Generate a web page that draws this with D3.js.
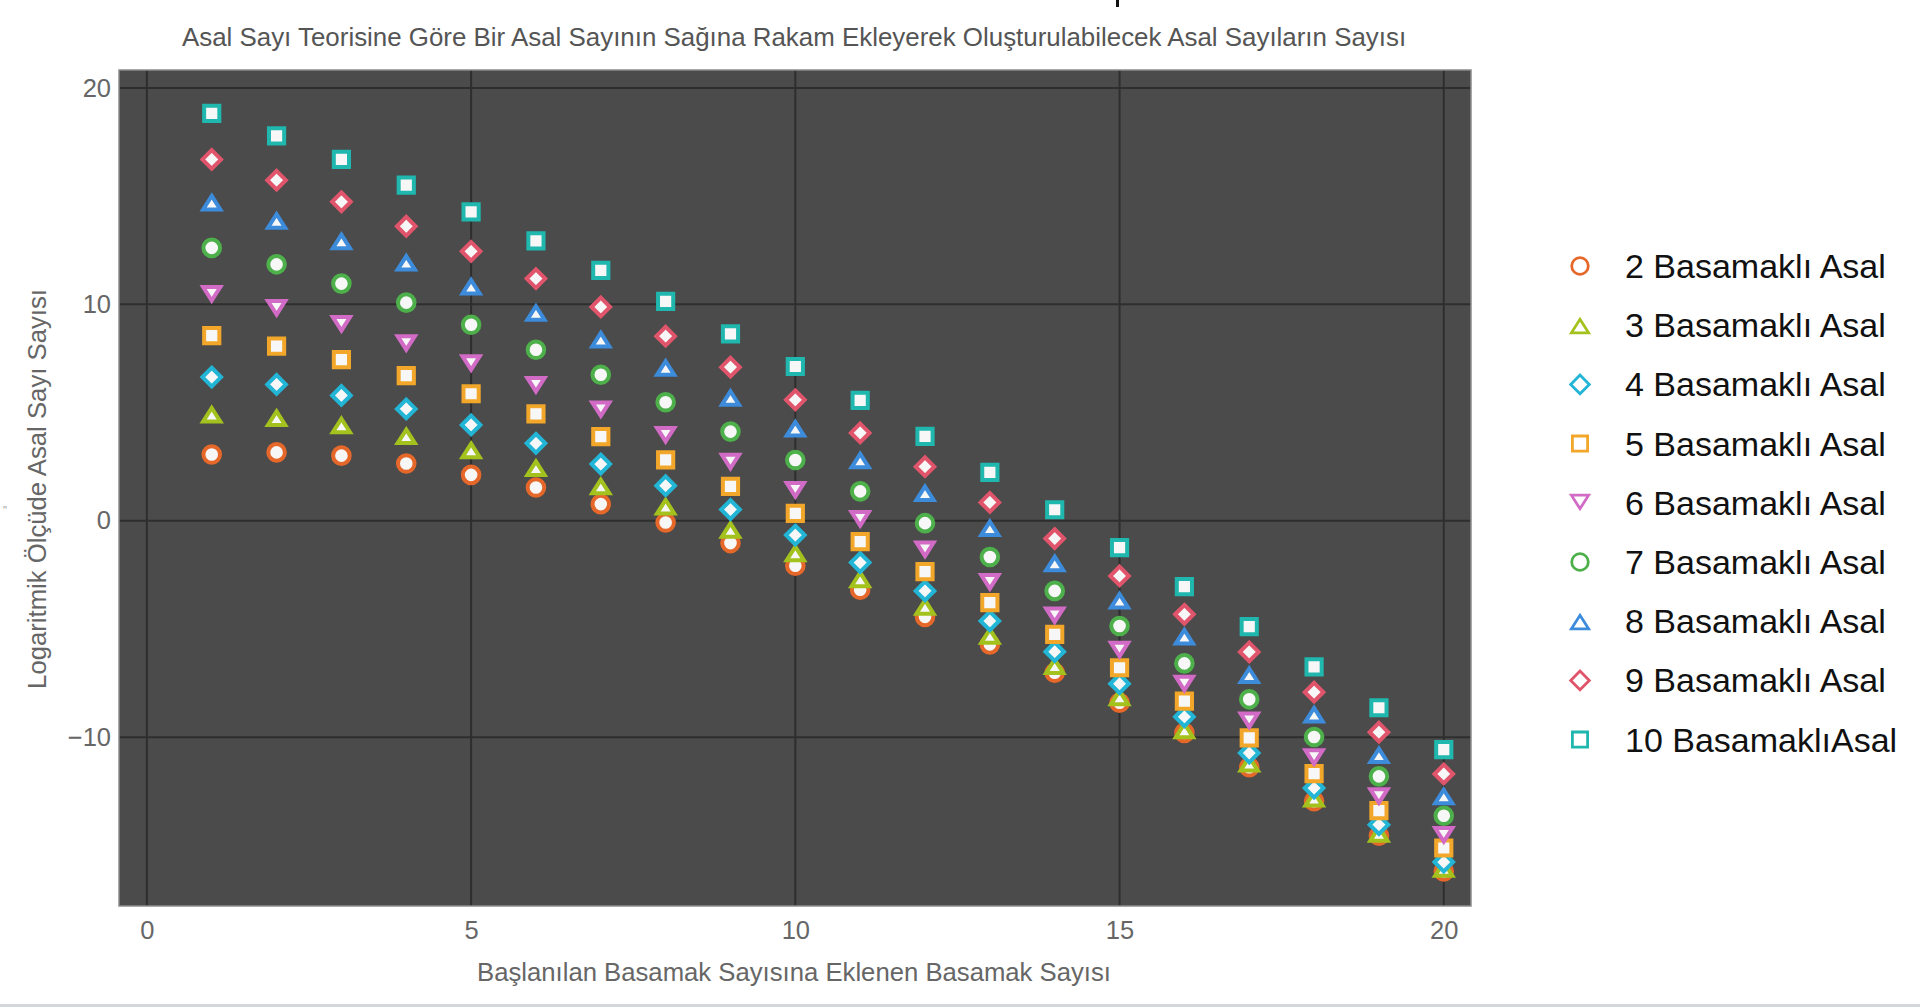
<!DOCTYPE html>
<html>
<head>
<meta charset="utf-8">
<script src="https://cdn.jsdelivr.net/npm/d3@7"></script>
<style>
  body { margin: 0; background: #fff; overflow: hidden; }
  text { font-family: "Liberation Sans", Arial, Helvetica, sans-serif; }
</style>
</head>
<body>
<svg id="chart" width="1920" height="1007"></svg>
<script>
// ---------------- DATA ----------------
const steps = [1, 2, 3, 4, 5, 6, 7, 8, 9, 10, 11, 12, 13, 14, 15, 16, 17, 18, 19, 20];
const seriesLabels = ["2 Basamaklı Asal", "3 Basamaklı Asal", "4 Basamaklı Asal", "5 Basamaklı Asal",
  "6 Basamaklı Asal", "7 Basamaklı Asal", "8 Basamaklı Asal", "9 Basamaklı Asal", "10 BasamaklıAsal"];
const s2  = [3.06, 3.16, 3.01, 2.65, 2.12, 1.54, 0.77, -0.08, -1.03, -2.08, -3.19, -4.44, -5.71, -7.02, -8.41, -9.80, -11.39, -12.96, -14.55, -16.20];
const s3  = [4.94, 4.78, 4.44, 3.94, 3.29, 2.47, 1.62, 0.69, -0.39, -1.47, -2.67, -3.94, -5.29, -6.68, -8.13, -9.65, -11.19, -12.81, -14.43, -16.05];
const s4  = [6.64, 6.30, 5.79, 5.17, 4.43, 3.58, 2.62, 1.62, 0.52, -0.66, -1.93, -3.24, -4.63, -6.05, -7.53, -9.06, -10.73, -12.35, -14.04, -15.77];
const s5  = [8.56, 8.07, 7.45, 6.71, 5.87, 4.94, 3.89, 2.81, 1.59, 0.34, -0.96, -2.35, -3.78, -5.25, -6.79, -8.33, -10.03, -11.68, -13.39, -15.12];
const s6  = [10.45, 9.80, 9.06, 8.18, 7.25, 6.25, 5.12, 3.94, 2.70, 1.39, 0.05, -1.36, -2.86, -4.40, -5.99, -7.56, -9.26, -10.96, -12.76, -14.55];
const s7  = [12.61, 11.85, 10.96, 10.08, 9.06, 7.90, 6.75, 5.48, 4.12, 2.81, 1.36, -0.11, -1.67, -3.24, -4.86, -6.59, -8.25, -9.99, -11.81, -13.63];
const s8  = [14.74, 13.89, 12.95, 11.96, 10.85, 9.64, 8.41, 7.10, 5.71, 4.29, 2.82, 1.31, -0.31, -1.93, -3.66, -5.32, -7.10, -8.92, -10.80, -12.70];
const s9  = [16.70, 15.74, 14.74, 13.61, 12.45, 11.19, 9.88, 8.53, 7.10, 5.59, 4.06, 2.50, 0.85, -0.82, -2.55, -4.32, -6.06, -7.92, -9.77, -11.70];
const s10 = [18.83, 17.79, 16.70, 15.51, 14.27, 12.93, 11.57, 10.14, 8.64, 7.13, 5.56, 3.90, 2.24, 0.51, -1.24, -3.04, -4.89, -6.75, -8.64, -10.57];
const seriesValues = [s2, s3, s4, s5, s6, s7, s8, s9, s10];
const xTickValues = [0, 5, 10, 15, 20];
const yTickValues = [-10, 0, 10, 20];
const titleText = "Asal Sayı Teorisine Göre Bir Asal Sayının Sağına Rakam Ekleyerek Oluşturulabilecek Asal Sayıların Sayısı";
const xTitle = "Başlanılan Basamak Sayısına Eklenen Basamak Sayısı";
const yTitle = "Logaritmik Ölçüde Asal Sayı Sayısı";

// ---------------- STYLE ----------------
const colors = ["#E5682A", "#A3C21E", "#22B5D5", "#F2A72A", "#D26BC6", "#4DB04A", "#3D8BDB", "#E0556B", "#1FB7AE"];
const shapeOf = ["circle", "triUp", "diamond", "square", "triDown", "circle", "triUp", "diamond", "square"];

function shapePath(type) {
  switch (type) {
    case "circle": { const r = 8.3; return `M${r},0A${r},${r} 0 1,1 ${-r},0A${r},${r} 0 1,1 ${r},0Z`; }
    case "square": { const h = 7.6; return `M${-h},${-h}H${h}V${h}H${-h}Z`; }
    case "diamond": { const d = 9.3; return `M0,${-d}L${d},0L0,${d}L${-d},0Z`; }
    case "triUp": { const a = 8.6, t = -5.9, b = 7.6; return `M0,${t}L${a},${b}L${-a},${b}Z`; }
    case "triDown": { const a = 8.6, t = -5.9, b = 7.6; return `M0,${-t}L${a},${-b}L${-a},${-b}Z`; }
  }
}

const svg = d3.select("#chart");
const P = { left: 119, right: 1471, top: 70, bottom: 906 };

const x = d3.scaleLinear().domain([-0.43, 20.42]).range([P.left, P.right]);
const y = d3.scaleLinear().domain([-17.8, 20.83]).range([P.bottom, P.top]);

// plot background
svg.append("rect")
  .attr("x", P.left).attr("y", P.top)
  .attr("width", P.right - P.left).attr("height", P.bottom - P.top)
  .attr("fill", "#4b4b4b");

// grid
const grid = svg.append("g");
grid.selectAll("line.gx").data(xTickValues).join("line")
  .attr("x1", d => x(d)).attr("x2", d => x(d))
  .attr("y1", P.top).attr("y2", P.bottom)
  .attr("stroke", "#2e2e2e").attr("stroke-width", 2);
grid.selectAll("line.gy").data(yTickValues).join("line")
  .attr("y1", d => y(d)).attr("y2", d => y(d))
  .attr("x1", P.left).attr("x2", P.right)
  .attr("stroke", "#2e2e2e").attr("stroke-width", 2);

// border
svg.append("rect")
  .attr("x", P.left).attr("y", P.top)
  .attr("width", P.right - P.left).attr("height", P.bottom - P.top)
  .attr("fill", "none").attr("stroke", "#8c8c8c").attr("stroke-width", 1.5);

// axes (labels only)
const xAxis = svg.append("g").attr("transform", `translate(0,${P.bottom})`)
  .call(d3.axisBottom(x).tickValues(xTickValues).tickSize(0).tickPadding(34).tickFormat(d3.format("d")));
const yAxis = svg.append("g").attr("transform", `translate(${P.left},0)`)
  .call(d3.axisLeft(y).tickValues(yTickValues).tickSize(0).tickPadding(8)
        .tickFormat(d => d < 0 ? "\u2212" + Math.abs(d) : String(d)));
[xAxis, yAxis].forEach(a => {
  a.select(".domain").remove();
  a.selectAll("text").attr("fill", "#666").style("font-size", "25.5px")
   .style("font-family", "'Liberation Sans', Arial, sans-serif");
});
xAxis.selectAll("text").attr("dy", null).attr("y", 0).attr("dominant-baseline", "auto")
  .attr("transform", "translate(0,33)");

// points
const seriesG = svg.append("g");
seriesValues.forEach((vals, si) => {
  seriesG.append("g").selectAll("path").data(vals).join("path")
    .attr("transform", (v, i) => `translate(${x(steps[i])},${y(v)})`)
    .attr("d", shapePath(shapeOf[si]))
    .attr("fill", "#f7f7f7")
    .attr("stroke", colors[si])
    .attr("stroke-width", 4)
    .attr("stroke-linejoin", "miter");
});

// titles
svg.append("text").attr("x", 794).attr("y", 46).attr("text-anchor", "middle")
  .attr("fill", "#555").style("font-size", "25.9px").text(titleText);
svg.append("text").attr("x", 794).attr("y", 981).attr("text-anchor", "middle")
  .attr("fill", "#666").style("font-size", "25.7px").text(xTitle);
svg.append("text").attr("transform", "translate(46,489) rotate(-90)").attr("text-anchor", "middle")
  .attr("fill", "#666").style("font-size", "25.7px").text(yTitle);

// legend
const legend = svg.append("g");
const rowY = i => 266 + 59.2 * i;
seriesLabels.forEach((lab, i) => {
  legend.append("path")
    .attr("transform", `translate(1580,${rowY(i)})`)
    .attr("d", shapePath(shapeOf[i]))
    .attr("fill", "#fff").attr("stroke", colors[i]).attr("stroke-width", 2.8);
  legend.append("text").attr("x", 1625).attr("y", rowY(i) + 12)
    .attr("fill", "#111").style("font-size", "34px").text(lab);
});

// small artefacts of the original image
svg.append("text").attr("x", 3).attr("y", 514).attr("fill", "#999").style("font-size", "11px").text("\"");
svg.append("rect").attr("x", 1116).attr("y", 0).attr("width", 3).attr("height", 7).attr("fill", "#111");
svg.append("rect").attr("x", 0).attr("y", 1004).attr("width", 1920).attr("height", 3).attr("fill", "#d3d7dc");
</script>
</body>
</html>
